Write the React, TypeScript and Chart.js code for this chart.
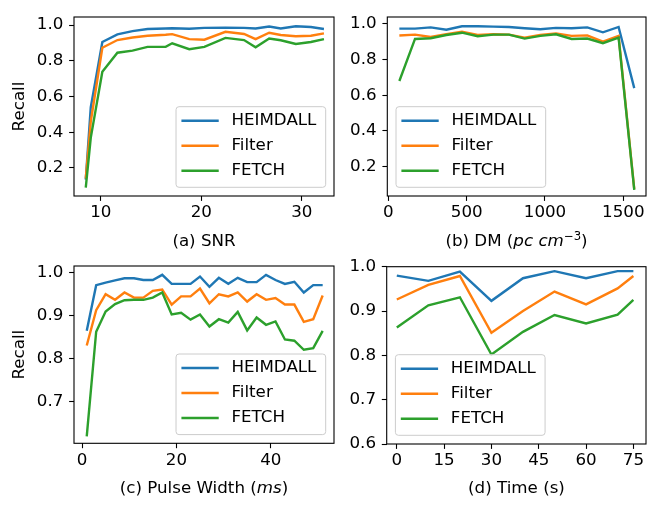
import React, { useEffect, useRef } from 'react';
import { Chart, registerables } from 'chart.js';

Chart.register(...registerables);

const FONT = "'DejaVu Sans', sans-serif";
const FS = 16.7;
const LINE_W = 2.4;
const colors = ['#1f77b4', '#ff7f0e', '#2ca02c'];
const seriesNames = ['HEIMDALL', 'Filter', 'FETCH'];

// (a) SNR
const snrX = [8.5, 9.0, 10.15, 11.65, 13.15, 14.65, 16.45, 17.1, 18.8, 20.3, 22.4, 24.25, 25.4, 26.75, 27.9, 29.4, 30.9, 32.2];
const snrHeimdall = [0.135, 0.54, 0.905, 0.948, 0.966, 0.978, 0.981, 0.982, 0.979, 0.984, 0.985, 0.984, 0.981, 0.992, 0.981, 0.993, 0.989, 0.978];
const snrFilter = [0.14, 0.46, 0.873, 0.916, 0.93, 0.94, 0.946, 0.949, 0.921, 0.918, 0.962, 0.95, 0.921, 0.957, 0.944, 0.937, 0.94, 0.953];
const snrFetch = [0.09, 0.37, 0.738, 0.845, 0.857, 0.878, 0.878, 0.898, 0.865, 0.878, 0.928, 0.916, 0.875, 0.924, 0.915, 0.894, 0.905, 0.921];
const snrTicks = [10, 20, 30];

// (b) DM
const dmX = [70, 170, 270, 370, 470, 570, 670, 770, 870, 970, 1070, 1170, 1270, 1370, 1470, 1570];
const dmHeimdall = [0.974, 0.974, 0.981, 0.968, 0.987, 0.987, 0.985, 0.983, 0.976, 0.97, 0.978, 0.976, 0.981, 0.953, 0.983, 0.64];
const dmFilter = [0.935, 0.94, 0.927, 0.942, 0.957, 0.938, 0.942, 0.94, 0.923, 0.938, 0.947, 0.933, 0.936, 0.901, 0.933, 0.075];
const dmFetch = [0.68, 0.916, 0.92, 0.938, 0.951, 0.931, 0.94, 0.94, 0.918, 0.933, 0.942, 0.916, 0.918, 0.892, 0.923, 0.07];
const dmTicks = [0, 500, 1000, 1500];

// (c) pulse width
const widthX = [1, 3, 5, 7, 9, 11, 13, 15, 17, 19, 21, 23, 25, 27, 29, 31, 33, 35, 37, 39, 41, 43, 45, 47, 49, 51];
const widthHeimdall = [0.865, 0.971, 0.977, 0.982, 0.987, 0.987, 0.983, 0.983, 0.995, 0.974, 0.974, 0.974, 0.991, 0.967, 0.988, 0.974, 0.988, 0.978, 0.978, 0.995, 0.983, 0.974, 0.979, 0.954, 0.971, 0.971];
const widthFilter = [0.831, 0.913, 0.95, 0.937, 0.954, 0.942, 0.942, 0.958, 0.961, 0.926, 0.945, 0.945, 0.963, 0.929, 0.95, 0.945, 0.954, 0.933, 0.95, 0.937, 0.941, 0.926, 0.926, 0.886, 0.892, 0.947];
const widthFetch = [0.62, 0.863, 0.91, 0.927, 0.936, 0.937, 0.937, 0.942, 0.954, 0.903, 0.907, 0.891, 0.903, 0.875, 0.892, 0.884, 0.909, 0.866, 0.896, 0.879, 0.887, 0.845, 0.842, 0.821, 0.825, 0.865];
const widthTicks = [0, 20, 40];

// (d) time
const timeX = [0, 10, 20, 30, 40, 50, 60, 70, 75];
const timeHeimdall = [0.98, 0.968, 0.989, 0.923, 0.974, 0.99, 0.974, 0.99, 0.99];
const timeFilter = [0.926, 0.959, 0.979, 0.851, 0.9, 0.944, 0.915, 0.951, 0.979];
const timeFetch = [0.863, 0.913, 0.931, 0.802, 0.853, 0.891, 0.872, 0.892, 0.925];
const timeTicks = [0, 15, 30, 45, 60, 75];

const recallTicksFull = [0.2, 0.4, 0.6, 0.8, 1.0];
const recallTicksNarrow = [0.7, 0.8, 0.9, 1.0];
const recallTicksTime = [0.6, 0.7, 0.8, 0.9, 1.0];

interface PanelProps {
    box: { left: number; top: number; width: number; height: number };
    padTop: number;
    padRight: number;
    yAxisWidth: number;
    xAxisHeight: number;
    xs: number[];
    series: number[][];
    xRange: [number, number];
    yRange: [number, number];
    xTicks: number[];
    yTicks: number[];
    yTitle?: string;
    legendSide: 'left' | 'right';
}

const Panel: React.FC<PanelProps> = (p) => {
    const canvasRef = useRef<HTMLCanvasElement | null>(null);

    useEffect(() => {
        if (!canvasRef.current) return;
        // box round the axes plus the legend, drawn over the lines
        const framePlugin = {
            id: 'frameLegend',
            afterDatasetsDraw(chart: Chart) {
                const { ctx, chartArea } = chart;
                const { left, top, right, bottom } = chartArea;
                ctx.save();
                ctx.strokeStyle = '#000';
                ctx.lineWidth = 1.1;
                ctx.strokeRect(left, top, right - left, bottom - top);

                ctx.font = `${FS}px ${FONT}`;
                const textW = Math.max(...seriesNames.map((s) => ctx.measureText(s).width));
                const boxW = 55.4 + textW + 9.3;
                const boxH = 80.6;
                const bx = p.legendSide === 'right' ? right - 8.3 - boxW : left + 8.7;
                const by = bottom - 8.7 - boxH;
                ctx.beginPath();
                ctx.roundRect(bx, by, boxW, boxH, 3);
                ctx.fillStyle = 'rgba(255,255,255,0.8)';
                ctx.fill();
                ctx.strokeStyle = '#cccccc';
                ctx.lineWidth = 1;
                ctx.stroke();
                seriesNames.forEach((name, i) => {
                    const cy = by + 14 + i * 25;
                    ctx.beginPath();
                    ctx.strokeStyle = colors[i];
                    ctx.lineWidth = LINE_W;
                    ctx.moveTo(bx + 5.4, cy);
                    ctx.lineTo(bx + 42.7, cy);
                    ctx.stroke();
                    ctx.fillStyle = '#000';
                    ctx.textBaseline = 'middle';
                    ctx.textAlign = 'left';
                    ctx.fillText(name, bx + 55.4, cy);
                });
                ctx.restore();
            },
        };

        const tickFont = { family: FONT, size: FS };
        const chart = new Chart(canvasRef.current, {
            type: 'line',
            data: {
                datasets: p.series.map((vals, i) => ({
                    label: seriesNames[i],
                    data: p.xs.map((x, j) => ({ x, y: vals[j] })),
                    borderColor: colors[i],
                    borderWidth: LINE_W,
                    pointRadius: 0,
                    tension: 0,
                    fill: false,
                    order: 3 - i,
                })),
            },
            options: {
                animation: false,
                responsive: false,
                devicePixelRatio: 1,
                layout: { padding: { top: p.padTop, right: p.padRight, left: 0, bottom: 0 } },
                plugins: { legend: { display: false }, tooltip: { enabled: false } },
                scales: {
                    x: {
                        type: 'linear',
                        min: p.xRange[0],
                        max: p.xRange[1],
                        afterBuildTicks: (scale: any) => {
                            scale.ticks = p.xTicks.map((v) => ({ value: v }));
                        },
                        afterFit: (scale: any) => {
                            scale.height = p.xAxisHeight;
                        },
                        ticks: {
                            font: tickFont,
                            color: '#000',
                            padding: 2,
                            maxRotation: 0,
                            autoSkip: false,
                            callback: (v: any) => String(v),
                        },
                        grid: { drawOnChartArea: false, drawTicks: true, tickLength: 4.9, tickColor: '#000', tickWidth: 1.1 },
                        border: { display: false },
                    },
                    y: {
                        type: 'linear',
                        min: p.yRange[0],
                        max: p.yRange[1],
                        afterBuildTicks: (scale: any) => {
                            scale.ticks = p.yTicks.map((v) => ({ value: v }));
                        },
                        afterFit: (scale: any) => {
                            scale.width = p.yAxisWidth;
                        },
                        ticks: {
                            font: tickFont,
                            color: '#000',
                            padding: 5.8,
                            autoSkip: false,
                            callback: (v: any) => Number(v).toFixed(1),
                        },
                        grid: { drawOnChartArea: false, drawTicks: true, tickLength: 4.9, tickColor: '#000', tickWidth: 1.1 },
                        border: { display: false },
                        title: {
                            display: !!p.yTitle,
                            text: p.yTitle || '',
                            color: '#000',
                            font: { family: FONT, size: FS },
                            padding: { top: 10, bottom: 0 },
                        },
                    },
                },
            },
            plugins: [framePlugin],
        });
        return () => {
            chart.destroy();
        };
    }, []);

    return (
        <div style={{ position: 'absolute', left: p.box.left, top: p.box.top, width: p.box.width, height: p.box.height }}>
            <canvas
                ref={canvasRef}
                width={p.box.width}
                height={p.box.height}
                style={{ width: p.box.width, height: p.box.height, display: 'block' }}
            ></canvas>
        </div>
    );
};

const titleStyle = (cx: number, cy: number): React.CSSProperties => ({
    position: 'absolute',
    left: cx,
    top: cy,
    transform: 'translate(-50%, -50%)',
    fontFamily: FONT,
    fontSize: FS,
    lineHeight: 1,
    whiteSpace: 'nowrap',
    color: '#000',
});

const App: React.FC = () => {
    return (
        <div style={{ position: 'absolute', left: 0, top: 0, width: 665, height: 509, background: '#fff', overflow: 'hidden' }}>
            <Panel
                box={{ left: 0, top: 0, width: 340, height: 250 }}
                padTop={17}
                padRight={6}
                yAxisWidth={74}
                xAxisHeight={54}
                xs={snrX}
                series={[snrHeimdall, snrFilter, snrFetch]}
                xRange={[7.33, 33.2]}
                yRange={[0.043, 1.045]}
                xTicks={snrTicks}
                yTicks={recallTicksFull}
                yTitle="Recall"
                legendSide="right"
            />
            <Panel
                box={{ left: 340, top: 0, width: 325, height: 250 }}
                padTop={17}
                padRight={19}
                yAxisWidth={47.3}
                xAxisHeight={54}
                xs={dmX}
                series={[dmHeimdall, dmFilter, dmFetch]}
                xRange={[-7, 1645]}
                yRange={[0.035, 1.039]}
                xTicks={dmTicks}
                yTicks={recallTicksFull}
                legendSide="left"
            />
            <Panel
                box={{ left: 0, top: 250, width: 340, height: 259 }}
                padTop={16}
                padRight={6}
                yAxisWidth={74}
                xAxisHeight={65.7}
                xs={widthX}
                series={[widthHeimdall, widthFilter, widthFetch]}
                xRange={[-1.7, 53.4]}
                yRange={[0.604, 1.0155]}
                xTicks={widthTicks}
                yTicks={recallTicksNarrow}
                yTitle="Recall"
                legendSide="right"
            />
            <Panel
                box={{ left: 340, top: 250, width: 325, height: 259 }}
                padTop={16.7}
                padRight={19}
                yAxisWidth={46.7}
                xAxisHeight={65}
                xs={timeX}
                series={[timeHeimdall, timeFilter, timeFetch]}
                xRange={[-3.2, 79]}
                yRange={[0.6, 1.0]}
                xTicks={timeTicks}
                yTicks={recallTicksTime}
                legendSide="left"
            />
            <div style={titleStyle(204, 240)}>(a) SNR</div>
            <div style={titleStyle(516.5, 240)}>
                (b) DM (<span style={{ fontStyle: 'italic' }}>pc cm</span>
                <span style={{ fontSize: '0.7em', position: 'relative', top: '-0.55em' }}>−3</span>)
            </div>
            <div style={titleStyle(204, 487)}>
                (c) Pulse Width (<span style={{ fontStyle: 'italic' }}>ms</span>)
            </div>
            <div style={titleStyle(516.5, 486.7)}>(d) Time (s)</div>
        </div>
    );
};

export default App;
